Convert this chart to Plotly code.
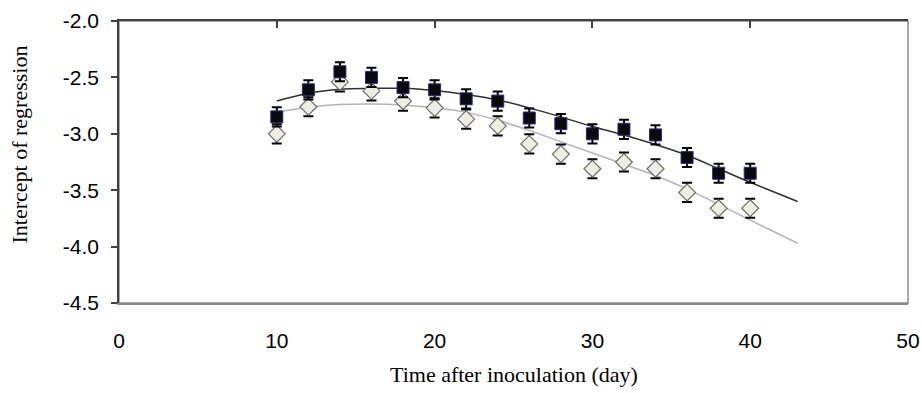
import plotly.graph_objects as go

days = [10, 12, 14, 16, 18, 20, 22, 24, 26, 28, 30, 32, 34, 36, 38, 40]
series_a = [-2.85, -2.61, -2.45, -2.50, -2.59, -2.61, -2.69, -2.71, -2.86, -2.91, -3.00, -2.96, -3.01, -3.21, -3.35, -3.35]
series_b = [-3.00, -2.76, -2.54, -2.62, -2.71, -2.77, -2.87, -2.93, -3.09, -3.18, -3.31, -3.25, -3.31, -3.52, -3.66, -3.66]
err_a = [0.085] * len(days)
err_b = [0.085] * len(days)

# trend lines
trend_x = [10, 12, 14, 16, 18, 20, 22, 24, 26, 28, 30, 32, 34, 36, 38, 40, 43]
trend_a = [-2.709, -2.64, -2.605, -2.597, -2.597, -2.617, -2.652, -2.70, -2.77, -2.85, -2.935, -3.01, -3.095, -3.19, -3.31, -3.43, -3.60]
trend_b = [-2.81, -2.765, -2.74, -2.735, -2.745, -2.77, -2.81, -2.88, -2.97, -3.07, -3.17, -3.27, -3.37, -3.49, -3.625, -3.765, -3.97]

x_ticks = [0, 10, 20, 30, 40, 50]
y_ticks = [-2.0, -2.5, -3.0, -3.5, -4.0, -4.5]

fig = go.Figure()
fig.add_trace(go.Scatter(x=trend_x, y=trend_b, mode="lines", line=dict(color="#b4b4b4", width=1.5, shape="spline", smoothing=1.0), showlegend=False, hoverinfo="skip"))
fig.add_trace(go.Scatter(x=trend_x, y=trend_a, mode="lines", line=dict(color="#303030", width=1.5, shape="spline", smoothing=1.0), showlegend=False, hoverinfo="skip"))
fig.add_trace(go.Scatter(
    x=days, y=series_b, mode="markers", showlegend=False,
    marker=dict(symbol="diamond", size=13, color="#ededE2", line=dict(color="#6e6e6e", width=1.2)),
    error_y=dict(type="data", array=err_b, color="black", thickness=2, width=5),
))
fig.add_trace(go.Scatter(
    x=days, y=series_a, mode="markers", showlegend=False,
    marker=dict(symbol="square", size=12, color="#0a0a0a", line=dict(color="#2a2a80", width=1)),
    error_y=dict(type="data", array=err_a, color="black", thickness=2, width=5),
))
fig.add_trace(go.Scatter(x=[None], y=[None], xaxis="x2", showlegend=False))

fig.update_layout(
    width=922, height=393, autosize=False,
    margin=dict(l=119, r=14, t=21, b=90, autoexpand=False),
    paper_bgcolor="white", plot_bgcolor="white",
    font=dict(family="Liberation Sans, Arial", color="black"),
    shapes=[dict(type="rect", xref="paper", yref="paper", x0=0, x1=1, y0=0, y1=1,
                 line=dict(color="#8c8c8c", width=1.5), layer="below")],
    xaxis=dict(
        range=[0, 50], tickvals=x_ticks, ticktext=[str(v) for v in x_ticks], automargin=False,
        showgrid=False, zeroline=False, showline=True, linecolor="#8c8c8c", linewidth=1.5,
        ticks="", ticklabelstandoff=18, tickfont=dict(size=21),
    ),
    xaxis2=dict(
        range=[0, 50], overlaying="x", side="top", tickvals=x_ticks, showticklabels=False, automargin=False,
        showgrid=False, zeroline=False, showline=True, linecolor="#404040", linewidth=1.5,
        ticks="inside", ticklen=7, tickwidth=1.5, tickcolor="#404040",
    ),
    yaxis=dict(
        range=[-4.5, -2.0], tickvals=y_ticks, ticktext=[f"{v:.1f}" for v in y_ticks], automargin=False,
        showgrid=False, zeroline=False, showline=True, linecolor="#404040", linewidth=1.5,
        ticks="outside", ticklen=6, tickwidth=1.5, tickcolor="#404040", tickfont=dict(size=21),
        ticklabelstandoff=8,
    ),
    annotations=[
        dict(text="Time after inoculation (day)", xref="paper", yref="paper", x=0.5, y=-0.255,
             xanchor="center", yanchor="middle", showarrow=False,
             font=dict(family="Liberation Serif, Times New Roman", size=22, color="black")),
        dict(text="Intercept of regression", xref="paper", yref="paper", x=-0.1255, y=0.562,
             xanchor="center", yanchor="middle", showarrow=False, textangle=-90,
             font=dict(family="Liberation Serif, Times New Roman", size=22, color="black")),
    ],
)
fig.write_html("out.html", config={"displayModeBar": False, "responsive": False})
with open("out.html", "r", encoding="utf-8") as f:
    html = f.read()
html = html.replace("<body>", '<body style="margin:0;padding:0;overflow:hidden;">', 1)
with open("out.html", "w", encoding="utf-8") as f:
    f.write(html)
